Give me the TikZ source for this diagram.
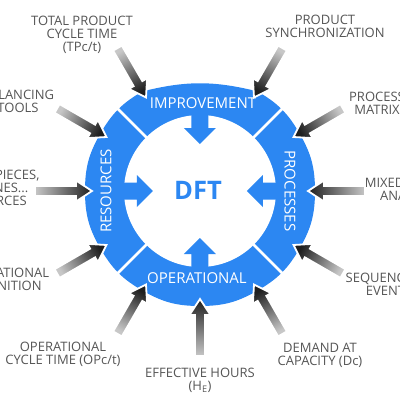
\documentclass[tikz,border=0pt]{standalone}
\usepackage{fontspec}
\setmainfont{Open Sans}
\definecolor{ringblue}{HTML}{2C87F2}
\definecolor{labelgray}{HTML}{555555}
\begin{document}
\begin{tikzpicture}[x=1pt,y=1pt,
  lbl/.style={text=labelgray, align=center, font=\fontsize{13}{13}\selectfont, inner sep=0pt},
  ringtxt/.style={text=white, font=\fontsize{15}{15}\selectfont, inner sep=0pt},
  grayarrow/.style={left color=black!22, right color=black!88, draw=white, line width=1.8pt, line join=miter}]
\useasboundingbox (-200,-209) rectangle (200,191);
\clip (-200,-209) rectangle (200,191);

% outer ring shape
\fill[ringblue] (0:115) to[bend right=15] (30:115) to[bend right=15] (60:115)
  to[bend right=14] (120:115) to[bend right=15] (150:115) to[bend right=15] (180:115)
  to[bend right=15] (210:115) to[bend right=15] (240:115) to[bend right=15] (270:115)
  to[bend right=15] (300:115) to[bend right=15] (330:115) to[bend right=15] (360:115) -- cycle;
% inner white disc
\fill[white] (0,0) circle (76);
% inner blue arrows
\foreach \a in {0,90,180,270}
  \fill[ringblue, rotate=\a] (47,0) -- (63,16) -- (63,8.5) -- (80,8.5) -- (80,-8.5) -- (63,-8.5) -- (63,-16) -- cycle;
% separators
\foreach \a in {45,135,225,315}
  \draw[white, line width=2.5pt] (\a:74) -- (\a:125);

% gray input arrows
\foreach \a in {0,30,60,120,150,180,210,240,270,300,330}{
  \pgfmathsetmacro\sa{\a+270}
  \path[grayarrow, shading angle=\sa, rotate=\a] (108,0) -- (124,10.5) -- (124,5) -- (165,5) -- (165,-5) -- (124,-5) -- (124,-10.5) -- cycle;
}

% ring labels
\node[ringtxt] (imp) at (3,88) {IMPROVEMENT};
\node[ringtxt] (ope) at (-3,-87.5) {OPERATIONAL};
\node[ringtxt, rotate=90] (res) at (-94,0) {RESOURCES};
\node[ringtxt, rotate=-90] (pro) at (90,0) {PROCESSES};
\node[text=ringblue, inner sep=0pt, font=\fontsize{25.5}{25.5}\selectfont\bfseries] (dft) at (-2,1) {DFT};

% outer labels
\node[lbl] (tpc) at (-118,156.5) {TOTAL PRODUCT\\CYCLE TIME\\(TPc/t)};
\node[lbl] (sync) at (125,165) {PRODUCT\\SYNCHRONIZATION};
\node[lbl] (pmx) at (177,87.5) {PROCESS\\MATRIX};
\node[lbl] (mma) at (209,2) {MIXED MODEL\\ANALYSIS};
\node[lbl] (soe) at (189,-93) {SEQUENCE OF\\EVENTS};
\node[lbl] (dac) at (120,-164.5) {DEMAND AT\\CAPACITY (Dc)};
\node[lbl] (eh) at (0,-189) {EFFECTIVE HOURS\\(H\textsubscript{E})};
\node[lbl] (opc) at (-137,-163.5) {OPERATIONAL\\CYCLE TIME (OPc/t)};
\node[lbl] (opd) at (-194,-88) {OPERATIONAL\\DEFINITION};
\node[lbl] (rsc) at (-209.5,3.5) {PEOPLE, PIECES,\\MACHINES...\\RESOURCES};
\node[lbl] (bal) at (-182,89.5) {BALANCING\\TOOLS};
\end{tikzpicture}
\end{document}
